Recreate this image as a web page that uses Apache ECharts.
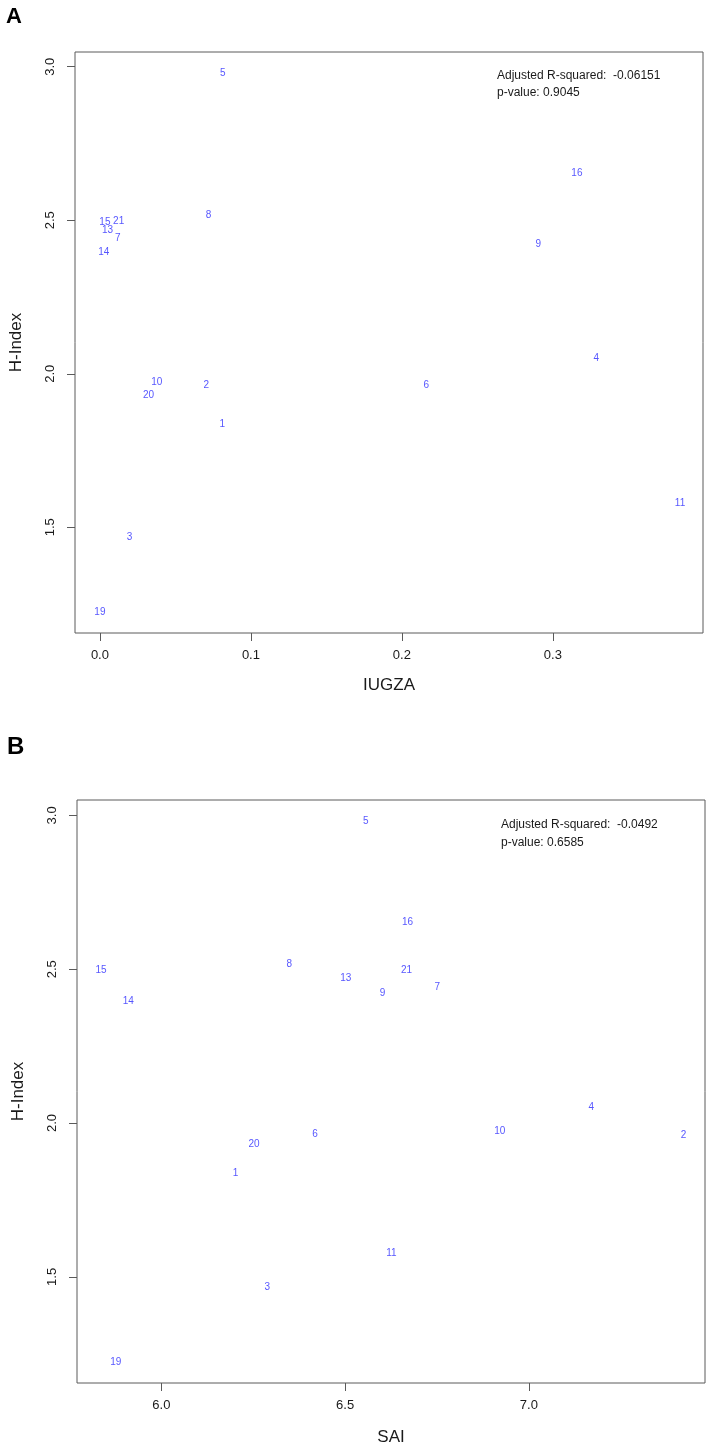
<!DOCTYPE html>
<html><head><meta charset="utf-8">
<script src="https://cdn.jsdelivr.net/npm/echarts@6/dist/echarts.min.js"></script>
<style>html,body{margin:0;padding:0;background:#fff}#c{width:706px;height:1449px}</style>
</head><body><div id="c"></div>
<script>
// Sample IDs (point labels)
const ids = ['1','2','3','4','5','6','7','8','9','10','11','13','14','15','16','19','20','21'];
// H-Index (y, shared by both panels)
const hIndex = [1.836,1.961,1.467,2.052,2.980,1.964,2.440,2.517,2.421,1.973,1.578,2.469,2.395,2.495,2.654,1.223,1.930,2.498];
// Panel A x: IUGZA
const iugza = [0.0811,0.0705,0.0196,0.3287,0.0813,0.2161,0.0119,0.0720,0.2903,0.0377,0.3842,0.0051,0.0026,0.0033,0.3159,0.0,0.0322,0.0124];
// Panel B x: SAI
const sai = [6.202,7.421,6.288,7.170,6.556,6.418,6.751,6.348,6.602,6.921,6.626,6.502,5.910,5.836,6.670,5.876,6.252,6.667];
// Tick labels
const ticksA = [0, 0.1, 0.2, 0.3];
const ticksB = [6.0, 6.5, 7.0];
const ticksY = [1.5, 2.0, 2.5, 3.0];
// Text
const statsA = ['Adjusted R-squared:  -0.06151', 'p-value: 0.9045'];
const statsB = ['Adjusted R-squared:  -0.0492', 'p-value: 0.6585'];

const FONT = '"Liberation Sans", Arial, sans-serif';
const AX = '#5a5a5a';
const TXT = '#1a1a1a';
const PT = '#2a2aff';

function xAxisCfg(idx, name, ticks, min, max, gap) {
  return {
    type: 'value', gridIndex: idx, min: min, max: max,
    name: name, nameLocation: 'middle', nameGap: gap,
    nameTextStyle: {fontFamily: FONT, fontSize: 17, color: TXT},
    axisLine: {show: false, onZero: false},
    splitLine: {show: false},
    axisTick: {show: true, length: 8, customValues: ticks, lineStyle: {color: AX, width: 1}},
    axisLabel: {customValues: ticks, formatter: v => v.toFixed(1), margin: 16,
      fontFamily: FONT, fontSize: 13, color: TXT}
  };
}
function yAxisCfg(idx, min, max) {
  return {
    type: 'value', gridIndex: idx, min: min, max: max,
    name: 'H-Index', nameLocation: 'middle', nameGap: 50, nameRotate: 90,
    nameTextStyle: {fontFamily: FONT, fontSize: 17, color: TXT},
    axisLine: {show: false, onZero: false},
    splitLine: {show: false},
    axisTick: {show: true, length: 8, customValues: ticksY, lineStyle: {color: AX, width: 1}},
    axisLabel: {customValues: ticksY, formatter: v => v.toFixed(1), rotate: 90, margin: 18,
      fontFamily: FONT, fontSize: 13, color: TXT}
  };
}
function seriesCfg(idx, xs) {
  return {
    type: 'scatter', xAxisIndex: idx, yAxisIndex: idx, silent: true,
    symbolSize: 1, itemStyle: {color: 'rgba(0,0,0,0)'},
    data: xs.map((x, i) => [x, hIndex[i], ids[i]]),
    label: {show: true, position: 'inside', formatter: p => p.value[2],
      fontFamily: FONT, fontSize: 10, color: PT}
  };
}

const chart = echarts.init(document.getElementById('c'), null, {renderer: 'canvas'});
chart.setOption({
  animation: false,
  backgroundColor: '#fff',
  grid: [
    {left: 74, top: 52, width: 629, height: 581, show: true, borderColor: AX, borderWidth: 1, backgroundColor: 'transparent'},
    {left: 77, top: 800, width: 628, height: 583, show: true, borderColor: AX, borderWidth: 1, backgroundColor: 'transparent'}
  ],
  xAxis: [
    xAxisCfg(0, 'IUGZA', ticksA, -0.0165, 0.3994, 44),
    xAxisCfg(1, 'SAI', ticksB, 5.7706, 7.4791, 46)
  ],
  yAxis: [
    yAxisCfg(0, 1.1557, 3.048),
    yAxisCfg(1, 1.155, 3.050)
  ],
  series: [seriesCfg(0, iugza), seriesCfg(1, sai)],
  graphic: [
    {type: 'text', left: 6, top: 6, style: {text: 'A', font: 'bold 22px ' + FONT, fill: '#000'}},
    {type: 'text', left: 7, top: 735, style: {text: 'B', font: 'bold 24px ' + FONT, fill: '#000'}},
    {type: 'text', x: 497, y: 76, style: {text: statsA[0], font: '12px ' + FONT, fill: TXT, verticalAlign: 'middle'}},
    {type: 'text', x: 497, y: 92.5, style: {text: statsA[1], font: '12px ' + FONT, fill: TXT, verticalAlign: 'middle'}},
    {type: 'text', x: 501, y: 825, style: {text: statsB[0], font: '12px ' + FONT, fill: TXT, verticalAlign: 'middle'}},
    {type: 'text', x: 501, y: 842.5, style: {text: statsB[1], font: '12px ' + FONT, fill: TXT, verticalAlign: 'middle'}}
  ]
});
</script></body></html>
